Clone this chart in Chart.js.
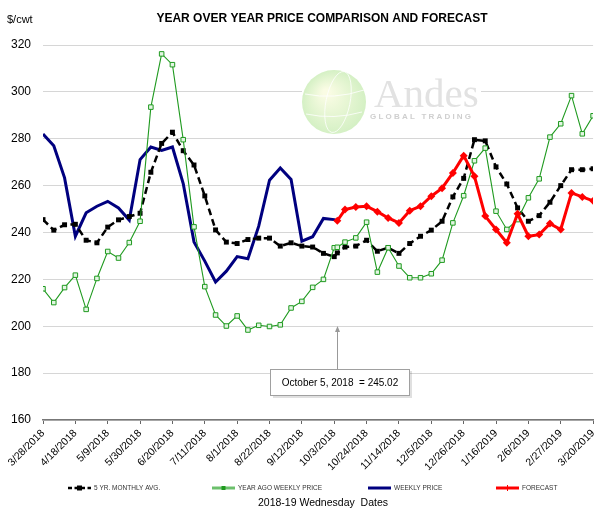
<!DOCTYPE html>
<html><head><meta charset="utf-8">
<script src="https://cdn.jsdelivr.net/npm/chart.js@4.4.1/dist/chart.umd.min.js"></script>
<style>html,body{margin:0;padding:0;background:#fff}#wrap{width:605px;height:508px;position:relative}</style>
</head><body><div id="wrap"><canvas id="c" width="605" height="508"></canvas></div>
<script>
// ---------- DATA ----------
const categories = ['3/28/2018','4/4/2018','4/11/2018','4/18/2018','4/25/2018','5/2/2018','5/9/2018','5/16/2018','5/23/2018','5/30/2018',
 '6/6/2018','6/13/2018','6/20/2018','6/27/2018','7/4/2018','7/11/2018','7/18/2018','7/25/2018','8/1/2018','8/8/2018',
 '8/15/2018','8/22/2018','8/29/2018','9/5/2018','9/12/2018','9/19/2018','9/26/2018','10/3/2018','10/5/2018','10/10/2018',
 '10/17/2018','10/24/2018','10/31/2018','11/7/2018','11/14/2018','11/21/2018','11/28/2018','12/5/2018','12/12/2018','12/19/2018',
 '12/26/2018','1/2/2019','1/9/2019','1/16/2019','1/23/2019','1/30/2019','2/6/2019','2/13/2019','2/20/2019','2/27/2019',
 '3/6/2019','3/13/2019','3/20/2019'];

const avg5yr = [245.5,241.0,243.3,243.5,236.7,235.6,242.3,245.4,246.8,248.2,
 265.7,278.0,282.8,274.9,268.8,255.6,241.1,235.9,235.3,237.0,
 237.6,237.6,234.2,235.6,234.2,233.8,231.1,229.7,231.3,233.8,
 234.2,236.7,232.0,233.5,231.1,235.3,238.4,241.0,244.8,255.2,
 263.1,279.6,279.1,268.0,260.7,250.5,244.8,247.2,252.9,260.0,
 266.8,266.8,267.2];

const yearAgoPrice = [216.0,210.1,216.5,221.8,207.2,220.4,231.9,229.1,235.7,244.8,
 293.5,316.2,311.6,279.6,242.4,216.9,204.8,200.1,204.4,198.4,
 200.4,199.9,200.6,207.8,210.6,216.6,220.0,233.5,233.7,235.9,
 237.7,244.4,223.1,233.5,225.7,220.7,220.7,222.4,228.2,244.1,
 255.7,270.6,276.0,249.1,241.3,245.5,254.8,262.9,280.7,286.4,
 298.4,282.1,289.8];

const weeklyPrice = [282.0,277.0,263.3,238.4,248.4,251.2,253.3,250.5,245.3,271.1,
 276.5,275.0,276.5,260.9,236.0,227.8,218.9,223.5,229.7,228.8,
 242.7,262.3,267.5,262.6,236.3,238.2,246.0,245.5,245.02,null,
 null,null,null,null,null,null,null,null,null,null,
 null,null,null,null,null,null,null,null,null,null,
 null,null,null];

const forecast = [null,null,null,null,null,null,null,null,null,null,
 null,null,null,null,null,null,null,null,null,null,
 null,null,null,null,null,null,null,null,245.02,249.8,
 250.9,251.2,248.9,246.2,244.1,249.3,251.2,255.5,258.9,265.4,
 272.8,264.0,247.0,241.3,235.6,248.0,238.4,239.1,243.8,241.3,
 256.9,255.2,253.5];

const tickLabels = ['3/28/2018','4/18/2018','5/9/2018','5/30/2018','6/20/2018','7/11/2018','8/1/2018','8/22/2018','9/12/2018',
 '10/3/2018','10/24/2018','11/14/2018','12/5/2018','12/26/2018','1/16/2019','2/6/2019','2/27/2019','3/20/2019'];

const seriesNames = ['5 YR. MONTHLY AVG.','YEAR AGO WEEKLY PRICE','WEEKLY PRICE','FORECAST'];
const calloutDate = '10/5/2018';
const calloutLabel = 'October 5, 2018';
const chartTitle = 'YEAR OVER YEAR PRICE COMPARISON AND FORECAST';
const unitLabel = '$/cwt';
const xAxisTitle = '2018-19 Wednesday  Dates';

// ---------- helpers ----------
function dayOf(s){ const [m,d,y]=s.split('/').map(Number); return Date.UTC(y,m-1,d)/86400000; }
const day0 = dayOf(categories[0]);
const xs = categories.map(c => dayOf(c) - day0);
const pts = arr => arr.map((v,i)=>({x:xs[i], y:v}));

const FONT = "'Liberation Sans', Arial, sans-serif";
const COLORS = {avg:'#000000', ago:'#1f9a1f', weekly:'#00007f', fc:'#ff0000'};

const extras = {
  id:'extras',
  beforeDatasetsDraw(chart){
    const ctx = chart.ctx; ctx.save();
    // watermark logo background
    ctx.fillStyle = '#ffffff';
    ctx.fillRect(302, 66, 179, 70);
    const cx=334, cy=102, r=32;
    const g = ctx.createRadialGradient(cx-8, cy-10, 3, cx, cy, r);
    g.addColorStop(0,'rgba(250,252,228,1)');
    g.addColorStop(1,'rgba(212,240,196,1)');
    ctx.fillStyle = g; ctx.beginPath(); ctx.arc(cx,cy,r,0,Math.PI*2); ctx.fill();
    ctx.strokeStyle='rgba(255,255,255,0.8)'; ctx.lineWidth=1;
    ctx.beginPath(); ctx.ellipse(cx+4,cy,12,r-1,0.2,0,Math.PI*2); ctx.stroke();
    ctx.beginPath(); ctx.moveTo(cx-r+3,cy-8); ctx.quadraticCurveTo(cx,cy-2,cx+r-2,cy-12); ctx.stroke();
    ctx.beginPath(); ctx.moveTo(cx-r+4,cy+12); ctx.quadraticCurveTo(cx,cy+18,cx+r-4,cy+10); ctx.stroke();
    ctx.fillStyle = '#e2e2e2';
    ctx.font = "41px 'Liberation Serif', serif";
    ctx.textBaseline='alphabetic'; ctx.textAlign='left';
    ctx.fillText('Andes', 374, 107);
    ctx.font = "bold 8px " + FONT;
    ctx.fillStyle = '#cfcfcf';
    if ('letterSpacing' in ctx) ctx.letterSpacing = '2.2px';
    ctx.fillText('GLOBAL TRADING', 370, 119);
    ctx.restore();
  },
  afterDraw(chart){
    const ctx = chart.ctx; ctx.save();
    // title + unit
    ctx.fillStyle = '#000'; ctx.textBaseline='middle';
    ctx.font = "bold 12px " + FONT; ctx.textAlign='center';
    ctx.fillText(chartTitle, 322, 19);
    ctx.font = "11px " + FONT; ctx.textAlign='left';
    ctx.fillText(unitLabel, 7, 20);
    // callout
    const xs5 = chart.scales.x.getPixelForValue(dayOf(calloutDate)-day0);
    const val = forecast[categories.indexOf(calloutDate)];
    ctx.strokeStyle='#999'; ctx.lineWidth=1;
    ctx.beginPath(); ctx.moveTo(Math.round(xs5)+0.5, 370); ctx.lineTo(Math.round(xs5)+0.5, 328); ctx.stroke();
    ctx.fillStyle='#999';
    ctx.beginPath(); ctx.moveTo(Math.round(xs5)+0.5, 326); ctx.lineTo(Math.round(xs5)-2, 332); ctx.lineTo(Math.round(xs5)+3, 332); ctx.closePath(); ctx.fill();
    ctx.fillStyle='rgba(0,0,0,0.12)'; ctx.fillRect(273, 371, 139, 27);
    ctx.fillStyle='#fff'; ctx.fillRect(270.5, 369.5, 139, 26);
    ctx.strokeStyle='#a0a0a0'; ctx.strokeRect(270.5, 369.5, 139, 26);
    ctx.fillStyle='#000'; ctx.font="10px " + FONT; ctx.textAlign='center';
    ctx.fillText(calloutLabel + '  = ' + val.toFixed(2), 340, 383);
    // legend
    const lx = [68, 212, 368, 496];
    const ly = 488;
    ctx.font = "6.5px " + FONT; ctx.textAlign='left';
    chart.data.datasets.forEach((ds,i)=>{
      const x0 = lx[i], x1 = x0+23;
      ctx.save();
      ctx.strokeStyle = i===1 ? '#6cc06c' : ds.borderColor;
      ctx.lineWidth = i===0 ? 2.5 : 3;
      ctx.setLineDash(i===0 ? [4,2.5] : []);
      ctx.beginPath(); ctx.moveTo(x0, ly); ctx.lineTo(x1, ly); ctx.stroke();
      ctx.restore();
      const mx = (x0+x1)/2;
      if (i===0){ ctx.fillStyle='#000'; ctx.fillRect(mx-2.5, ly-2.5, 5, 5); }
      if (i===1){ ctx.fillStyle='#1f9a1f'; ctx.fillRect(mx-2, ly-2, 4, 4); }
      if (i===3){ ctx.fillStyle='#ff0000'; ctx.fillRect(mx-0.5, ly-3, 1, 6); }
      ctx.fillStyle='#333';
      ctx.fillText(ds.label, x1+3, ly);
    });
    // x axis title
    ctx.fillStyle='#000'; ctx.font="10.5px " + FONT; ctx.textAlign='center';
    ctx.fillText(xAxisTitle, 323, 503);
    ctx.restore();
  }
};

new Chart(document.getElementById('c'), {
  type:'line',
  data:{
    datasets:[
      {label:seriesNames[0], data:pts(avg5yr), borderColor:COLORS.avg, backgroundColor:COLORS.avg, borderWidth:2.5, borderDash:[7,4],
       pointStyle:'rect', pointRadius:3.5, pointBackgroundColor:'#000', pointBorderWidth:0, order:2},
      {label:seriesNames[1], data:pts(yearAgoPrice), borderColor:COLORS.ago, backgroundColor:COLORS.ago, borderWidth:1.1,
       pointStyle:'rect', pointRadius:3.2, pointBackgroundColor:'#e3f5e3', pointBorderColor:COLORS.ago, pointBorderWidth:1, order:1},
      {label:seriesNames[2], data:pts(weeklyPrice), borderColor:COLORS.weekly, backgroundColor:COLORS.weekly, borderWidth:3,
       pointRadius:0, order:3},
      {label:seriesNames[3], data:pts(forecast), borderColor:COLORS.fc, backgroundColor:COLORS.fc, borderWidth:3,
       pointStyle:'rectRot', pointRadius:4, pointBackgroundColor:COLORS.fc, pointBorderWidth:0, order:0}
    ]
  },
  options:{
    responsive:false, animation:false,
    layout:{padding:{top:45, right:5, bottom:0, left:0}},
    plugins:{legend:{display:false}, tooltip:{enabled:false}, title:{display:false}},
    elements:{line:{tension:0}},
    scales:{
      x:{type:'linear', min:0, max:357,
         afterFit(s){ s.height = 88; },
         afterBuildTicks(s){ s.ticks = tickLabels.map((t,i)=>({value:i*21})); },
         ticks:{autoSkip:false, minRotation:45, maxRotation:45, padding:3, color:'#000',
           font:{family:FONT, size:10.5},
           callback:(v)=>tickLabels[Math.round(v/21)]},
         grid:{drawOnChartArea:false, drawTicks:true, tickLength:4, color:'#666'},
         border:{display:true, color:'#777', width:1.5}},
      y:{min:160, max:320,
         afterFit(s){ s.width = 43; },
         ticks:{stepSize:20, padding:12, color:'#000', font:{family:FONT, size:12}},
         grid:{color:'#d6d6d6', lineWidth:1, drawTicks:false},
         border:{display:false}}
    }
  },
  plugins:[extras]
});
</script></body></html>
